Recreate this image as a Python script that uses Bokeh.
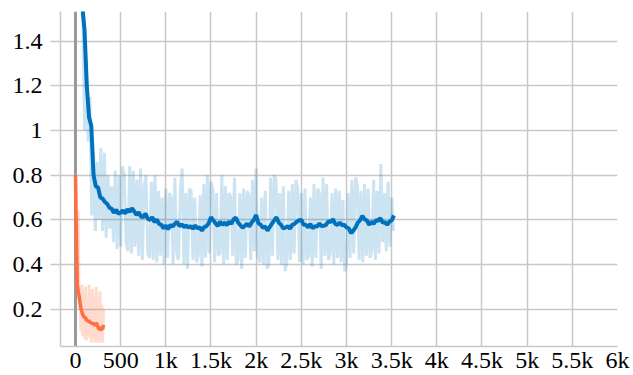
from bokeh.plotting import figure
from bokeh.layouts import gridplot
from bokeh.models import Range1d, FixedTicker, Span
from bokeh.embed import file_html
from bokeh.resources import INLINE

# ---------------- data ----------------
x_ticks = [0, 500, 1000, 1500, 2000, 2500, 3000, 3500, 4000, 4500, 5000, 5500, 6000]
x_tick_labels = ["0", "500", "1k", "1.5k", "2k", "2.5k", "3k", "3.5k", "4k", "4.5k", "5k", "5.5k", "6k"]
y_ticks = [0.2, 0.4, 0.6, 0.8, 1.0, 1.2, 1.4]
y_tick_labels = ["0.2", "0.4", "0.6", "0.8", "1", "1.2", "1.4"]

# smoothed blue curve, every 25 steps
blue_smooth_steps = list(range(0, 3550, 25))
blue_smooth = [
    2.40, 2.05, 1.75, 1.56, 1.45, 1.20, 1.06, 1.02, 0.80, 0.75,
    0.745, 0.70, 0.695, 0.68, 0.672, 0.655, 0.65, 0.632, 0.645, 0.628,
    0.632, 0.642, 0.628, 0.648, 0.635, 0.652, 0.638, 0.622, 0.634, 0.615,
    0.612, 0.628, 0.605, 0.60, 0.612, 0.59, 0.602, 0.582, 0.578, 0.562,
    0.575, 0.558, 0.578, 0.57, 0.582, 0.592, 0.572, 0.58, 0.568, 0.575,
    0.565, 0.572, 0.56, 0.575, 0.562, 0.566, 0.552, 0.568, 0.572, 0.585,
    0.612, 0.598, 0.585, 0.572, 0.592, 0.578, 0.588, 0.576, 0.592, 0.582,
    0.602, 0.61, 0.588, 0.576, 0.565, 0.574, 0.582, 0.57, 0.588, 0.60,
    0.622, 0.585, 0.578, 0.565, 0.57, 0.552, 0.568, 0.583, 0.598, 0.612,
    0.588, 0.578, 0.562, 0.565, 0.572, 0.56, 0.578, 0.582, 0.592, 0.598,
    0.60, 0.578, 0.578, 0.566, 0.582, 0.562, 0.572, 0.57, 0.584, 0.572,
    0.574, 0.578, 0.594, 0.59, 0.603, 0.582, 0.578, 0.588, 0.576, 0.578,
    0.566, 0.562, 0.54, 0.552, 0.566, 0.588, 0.598, 0.618, 0.602, 0.598,
    0.578, 0.592, 0.582, 0.598, 0.596, 0.608, 0.588, 0.59, 0.578, 0.592,
    0.598, 0.62,
]

# raw blue values, every 20 steps
blue_raw_steps = list(range(0, 3540, 20))
blue_raw = [
    2.50, 2.00, 1.70, 1.62, 1.55, 1.00, 1.31, 0.95, 1.15, 0.62, 0.90,
    0.55, 0.86, 0.60, 0.92, 0.55, 0.90, 0.52, 0.80, 0.56, 0.75,
    0.50, 0.82, 0.47, 0.80, 0.48, 0.84, 0.80, 0.50, 0.46, 0.84,
    0.45, 0.82, 0.48, 0.78, 0.44, 0.83, 0.42, 0.75, 0.80, 0.45,
    0.43, 0.77, 0.42, 0.80, 0.41, 0.73, 0.44, 0.70, 0.40, 0.74,
    0.43, 0.72, 0.70, 0.40, 0.79, 0.45, 0.42, 0.72, 0.83, 0.40,
    0.72, 0.38, 0.74, 0.73, 0.42, 0.70, 0.41, 0.44, 0.71, 0.39,
    0.76, 0.43, 0.80, 0.45, 0.77, 0.74, 0.41, 0.72, 0.44, 0.45,
    0.80, 0.40, 0.75, 0.42, 0.72, 0.70, 0.44, 0.79, 0.40, 0.42,
    0.72, 0.38, 0.74, 0.43, 0.73, 0.71, 0.42, 0.78, 0.46, 0.83,
    0.44, 0.41, 0.70, 0.40, 0.73, 0.38, 0.40, 0.79, 0.44, 0.80,
    0.78, 0.42, 0.72, 0.40, 0.75, 0.37, 0.41, 0.73, 0.42, 0.76,
    0.45, 0.78, 0.74, 0.41, 0.72, 0.40, 0.74, 0.42, 0.44, 0.70,
    0.39, 0.76, 0.43, 0.74, 0.72, 0.38, 0.79, 0.44, 0.76, 0.42,
    0.45, 0.72, 0.40, 0.74, 0.43, 0.73, 0.41, 0.69, 0.37, 0.40,
    0.72, 0.43, 0.78, 0.45, 0.79, 0.76, 0.42, 0.73, 0.41, 0.76,
    0.44, 0.74, 0.43, 0.46, 0.78, 0.42, 0.73, 0.45, 0.85, 0.50,
    0.72, 0.46, 0.77, 0.48, 0.70, 0.55,
]

orange_steps = list(range(0, 320, 10))
orange_smooth = [
    0.80, 0.52, 0.31, 0.28, 0.26, 0.23, 0.205, 0.19, 0.175, 0.17,
    0.16, 0.165, 0.15, 0.15, 0.145, 0.15, 0.14, 0.14, 0.135, 0.14,
    0.13, 0.135, 0.125, 0.14, 0.13, 0.12, 0.11, 0.12, 0.105, 0.12,
    0.11, 0.13,
]
orange_raw = [
    0.80, 0.35, 0.25, 0.64, 0.20, 0.30, 0.10, 0.31, 0.08, 0.28,
    0.07, 0.30, 0.06, 0.25, 0.08, 0.31, 0.07, 0.28, 0.05, 0.29,
    0.07, 0.26, 0.05, 0.30, 0.06, 0.21, 0.05, 0.28, 0.06, 0.22,
    0.05, 0.20,
]

assert len(blue_smooth_steps) == len(blue_smooth)
assert len(blue_raw_steps) == len(blue_raw)
assert len(orange_steps) == len(orange_smooth) == len(orange_raw)

# ---------------- styles ----------------
BLUE = "#0072BD"
ORANGE = "#FF6E40"
GRID = "#c8c8c8"
FONT = "Liberation Serif"

p = figure(width=633, height=375,
           x_range=Range1d(-166, 6000), y_range=Range1d(0.033, 1.533),
           output_backend="svg", toolbar_location=None,
           min_border_left=60, min_border_right=16,
           min_border_top=11, min_border_bottom=25)
p.outline_line_color = None

zero_line = Span(location=0, dimension="height", line_color="#9a9a9a",
                 line_width=3, level="underlay")
p.add_layout(zero_line)

p.line(blue_raw_steps, blue_raw, line_color=BLUE, line_alpha=0.2, line_width=3)
p.line(orange_steps, orange_raw, line_color=ORANGE, line_alpha=0.25, line_width=3)
p.line(blue_smooth_steps, blue_smooth, line_color=BLUE, line_width=4)
p.line(orange_steps, orange_smooth, line_color=ORANGE, line_width=3.5)

p.xaxis.ticker = FixedTicker(ticks=x_ticks)
p.xaxis.major_label_overrides = {t: l for t, l in zip(x_ticks, x_tick_labels)}
p.yaxis.ticker = FixedTicker(ticks=y_ticks)
p.yaxis.major_label_overrides = {t: l for t, l in zip(y_ticks, y_tick_labels)}

p.xaxis.major_label_text_font = FONT
p.yaxis.major_label_text_font = FONT
p.xaxis.major_label_text_font_size = "24px"
p.yaxis.major_label_text_font_size = "24px"
p.xaxis.major_label_text_color = "black"
p.yaxis.major_label_text_color = "black"

p.xaxis.axis_line_color = GRID
p.yaxis.axis_line_color = GRID
p.xaxis.axis_line_width = 1.5
p.yaxis.axis_line_width = 1.5
p.xaxis.minor_tick_line_color = None
p.yaxis.minor_tick_line_color = None
p.xaxis.major_tick_in = 0
p.yaxis.major_tick_in = 0
p.xaxis.major_tick_line_color = GRID
p.yaxis.major_tick_line_color = GRID
p.xaxis.major_tick_line_width = 1.5
p.yaxis.major_tick_line_width = 1.5

p.xaxis.major_tick_out = 0
p.xaxis.major_label_standoff = 0
p.yaxis.major_tick_out = 10
p.yaxis.major_label_standoff = 8

p.xgrid.grid_line_color = GRID
p.xgrid.grid_line_width = 1.5
p.ygrid.grid_line_color = GRID
p.ygrid.grid_line_width = 1.5

g = gridplot([[p]], toolbar_location=None)
open("out.html", "w").write(file_html(g, INLINE))
